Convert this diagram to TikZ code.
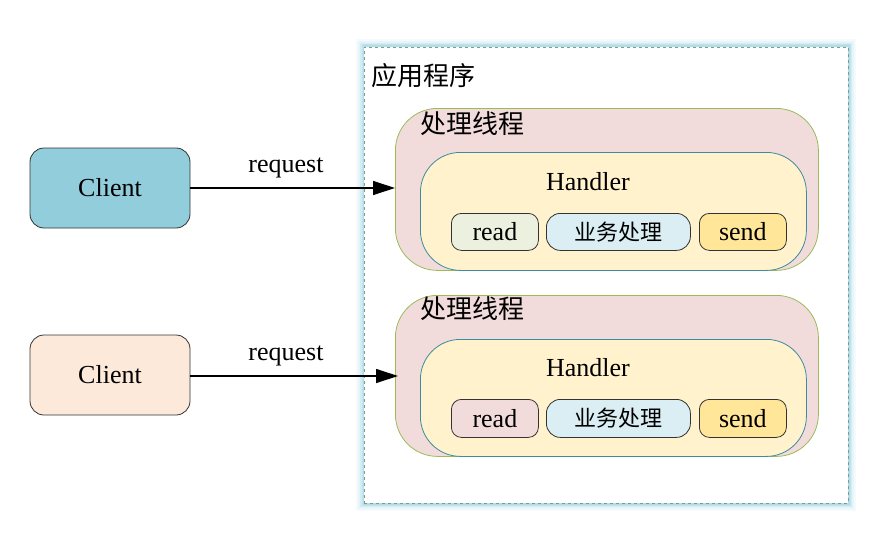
\documentclass[tikz,border=0pt]{standalone}
\usepackage{fontspec}
\setmainfont{Liberation Serif}
\newfontfamily\cjk{Noto Sans CJK SC}
\usetikzlibrary{arrows.meta,positioning}
\definecolor{glow}{HTML}{A9D8E6}
\definecolor{dashc}{HTML}{7F9F80}
\definecolor{thrfill}{HTML}{F2DCDB}
\definecolor{thrline}{HTML}{9BBB59}
\definecolor{hfill}{HTML}{FFF2CC}
\definecolor{hline}{HTML}{3A8C9E}
\definecolor{readA}{HTML}{EBF1DE}
\definecolor{readB}{HTML}{F2DCDB}
\definecolor{bizc}{HTML}{DAEEF3}
\definecolor{sendc}{HTML}{FFE699}
\definecolor{clientA}{HTML}{92CDDC}
\definecolor{clientB}{HTML}{FDE9D9}
\definecolor{boxline}{HTML}{333333}
\tikzset{
  txt/.style={font=\fontsize{26}{30}\selectfont, inner sep=0pt},
  cjktxt/.style={font=\cjk\fontsize{26}{30}\selectfont, inner sep=0pt},
  thread/.style={draw=thrline, fill=thrfill, line width=0.8pt, rounded corners=42pt},
  handlerbox/.style={draw=hline, fill=hfill, line width=0.8pt, rounded corners=40pt},
  smallbox/.style={draw=boxline, line width=0.8pt, rounded corners=10pt},
  clientbox/.style={draw=boxline, line width=0.8pt, rounded corners=14pt, minimum width=160pt, minimum height=80pt, font=\fontsize{26}{30}\selectfont},
  req/.style={-{Triangle[length=22pt,width=14pt]}, line width=1.2pt, black},
}
\begin{document}
\begin{tikzpicture}[x=1pt,y=-1pt]
\useasboundingbox (0,0) rectangle (886,551);
% application container glow
\foreach \w/\o in {16/0.12,12/0.18,8/0.3,5/0.45,3/0.6}{
  \draw[glow, line width=\w pt, opacity=\o] (364,47) rectangle (848,503);
}
\node[draw=dashc, dashed, fill=white, line width=0.8pt, minimum width=484pt, minimum height=456pt, anchor=north west, inner sep=0pt] (app) at (364,47) {};
\node[cjktxt, anchor=west] (applabel) at (371,76) {应用程序};

% thread 1
\node[thread, minimum width=423pt, minimum height=162pt, anchor=north west, inner sep=0pt] (t1) at (395,108) {};
\node[cjktxt, anchor=west] (t1label) at (420,124) {处理线程};
\node[handlerbox, minimum width=386pt, minimum height=118pt, anchor=north west, inner sep=0pt] (h1) at (420,152) {};
\node[txt] (h1label) at (588,182) {Handler};
\node[smallbox, fill=readA, minimum width=87pt, minimum height=37pt, anchor=north west, inner sep=0pt, font=\fontsize{26}{30}\selectfont] (r1) at (451,213) {read};
\node[smallbox, fill=bizc, rounded corners=14pt, minimum width=144pt, minimum height=37pt, anchor=north west, inner sep=0pt, font=\cjk\fontsize{22}{26}\selectfont] (b1) at (546,213) {业务处理};
\node[smallbox, fill=sendc, minimum width=87pt, minimum height=37pt, anchor=north west, inner sep=0pt, font=\fontsize{26}{30}\selectfont] (s1) at (699,213) {send};

% thread 2
\node[thread, minimum width=423pt, minimum height=161pt, anchor=north west, inner sep=0pt] (t2) at (395,295) {};
\node[cjktxt, anchor=west] (t2label) at (420,309) {处理线程};
\node[handlerbox, minimum width=386pt, minimum height=117pt, anchor=north west, inner sep=0pt] (h2) at (420,339) {};
\node[txt] (h2label) at (588,368) {Handler};
\node[smallbox, fill=readB, minimum width=87pt, minimum height=38pt, anchor=north west, inner sep=0pt, font=\fontsize{26}{30}\selectfont] (r2) at (451,399) {read};
\node[smallbox, fill=bizc, rounded corners=14pt, minimum width=144pt, minimum height=38pt, anchor=north west, inner sep=0pt, font=\cjk\fontsize{22}{26}\selectfont] (b2) at (546,399) {业务处理};
\node[smallbox, fill=sendc, minimum width=87pt, minimum height=38pt, anchor=north west, inner sep=0pt, font=\fontsize{26}{30}\selectfont] (s2) at (699,399) {send};

% clients
\node[clientbox, fill=clientA] (c1) at (110,188) {Client};
\node[clientbox, fill=clientB] (c2) at (110,375) {Client};

% requests
\coordinate (e2) at (398,376);
\draw[req] (c1.east) -- (c1.east -| t1.west);
\draw[req] (c2.east |- e2) -- (e2);
\node[txt] (q1) at (286,168) {request};
\node[txt] (q2) at (286,356) {request};
\end{tikzpicture}
\end{document}
